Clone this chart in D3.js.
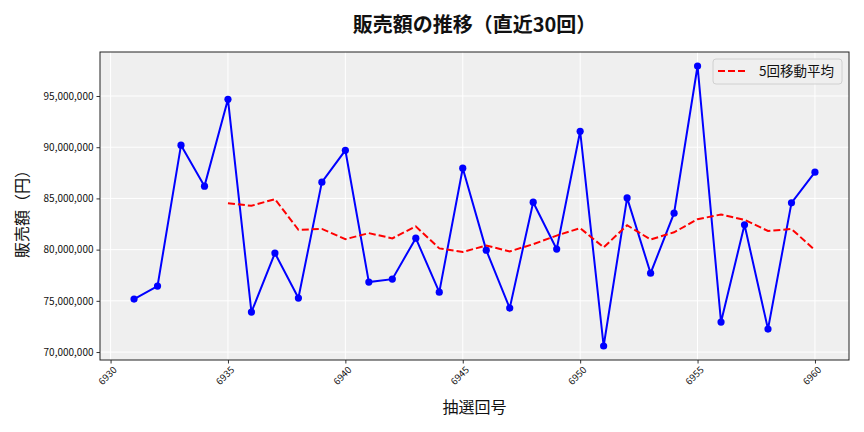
<!DOCTYPE html>
<html>
<head>
<meta charset="utf-8">
<script src="https://cdn.jsdelivr.net/npm/d3@7"></script>
<style>
  body { margin: 0; background: #ffffff; }
  svg { display: block; font-family: "Noto Sans CJK JP", "DejaVu Sans", sans-serif; }
</style>
</head>
<body>
<div id="chart"></div>
<script>
// draw numbers (抽選回号)
const draws = [6931, 6932, 6933, 6934, 6935, 6936, 6937, 6938, 6939, 6940,
               6941, 6942, 6943, 6944, 6945, 6946, 6947, 6948, 6949, 6950,
               6951, 6952, 6953, 6954, 6955, 6956, 6957, 6958, 6959, 6960];

// sales per draw, in yen
const sales = [75170000, 76440000, 90200000, 86200000, 94680000, 73900000, 79660000, 75270000, 86590000, 89700000,
               76830000, 77120000, 81120000, 75850000, 87950000, 79950000, 74290000, 84630000, 80050000, 91560000,
               70590000, 85050000, 77700000, 83560000, 97930000, 72930000, 82420000, 72240000, 84570000, 87560000];

// 5-draw moving average, draws 6935..6960
const maDraws = [6935, 6936, 6937, 6938, 6939, 6940, 6941, 6942, 6943, 6944,
                 6945, 6946, 6947, 6948, 6949, 6950, 6951, 6952, 6953, 6954,
                 6955, 6956, 6957, 6958, 6959, 6960];
const maValues = [84540000, 84280000, 84930000, 81940000, 82020000, 81020000, 81610000, 81100000, 82270000, 80120000,
                  79770000, 80400000, 79830000, 80530000, 81370000, 82100000, 80220000, 82380000, 80990000, 81690000,
                  82970000, 83430000, 82910000, 81820000, 82020000, 79940000];

const xTicks = [6930, 6935, 6940, 6945, 6950, 6955, 6960];
const yTicks = [70000000, 75000000, 80000000, 85000000, 90000000, 95000000];

const titleText = '販売額の推移（直近30回）';
const xLabelText = '抽選回号';
const yLabelText = '販売額（円）';
const legendText = '5回移動平均';

const width = 864, height = 432;
const margin = { top: 52, right: 15, bottom: 72, left: 100 };
const plotW = width - margin.left - margin.right;
const plotH = height - margin.top - margin.bottom;

const svg = d3.select('#chart')
    .append('svg')
    .attr('width', width)
    .attr('height', height);

// matplotlib style 5% padding on both axes
const xPad = (d3.max(draws) - d3.min(draws)) * 0.05;
const yPad = (d3.max(sales) - d3.min(sales)) * 0.05;

const x = d3.scaleLinear()
    .domain([d3.min(draws) - xPad, d3.max(draws) + xPad])
    .range([0, plotW]);

const y = d3.scaleLinear()
    .domain([d3.min(sales) - yPad, d3.max(sales) + yPad])
    .range([plotH, 0]);

const g = svg.append('g')
    .attr('transform', `translate(${margin.left},${margin.top})`);

// plot background
g.append('rect')
    .attr('width', plotW)
    .attr('height', plotH)
    .attr('fill', '#efefef');

// grid
g.append('g')
    .selectAll('line')
    .data(xTicks)
    .enter()
    .append('line')
    .attr('x1', d => x(d)).attr('x2', d => x(d))
    .attr('y1', 0).attr('y2', plotH)
    .attr('stroke', '#ffffff')
    .attr('stroke-width', 1);

g.append('g')
    .selectAll('line')
    .data(yTicks)
    .enter()
    .append('line')
    .attr('x1', 0).attr('x2', plotW)
    .attr('y1', d => y(d)).attr('y2', d => y(d))
    .attr('stroke', '#ffffff')
    .attr('stroke-width', 1);

// axes
const xAxis = g.append('g')
    .attr('transform', `translate(0,${plotH})`)
    .call(d3.axisBottom(x).tickValues(xTicks).tickSize(3.5).tickFormat(d3.format('d')));
xAxis.select('.domain').remove();
xAxis.selectAll('line').attr('stroke', '#333');
xAxis.selectAll('text')
    .attr('font-family', '"Noto Sans CJK JP", sans-serif')
    .attr('font-size', 9.5)
    .attr('fill', '#111')
    .attr('text-anchor', 'middle')
    .attr('dy', null)
    .attr('y', null)
    .attr('transform', 'translate(-1,18) rotate(-45)');

const yAxis = g.append('g')
    .call(d3.axisLeft(y).tickValues(yTicks).tickSize(3.5).tickFormat(d3.format(',')));
yAxis.select('.domain').remove();
yAxis.selectAll('line').attr('stroke', '#333');
yAxis.selectAll('text')
    .attr('font-family', '"Noto Sans CJK JP", sans-serif')
    .attr('font-size', 10)
    .attr('fill', '#111');

// frame
g.append('rect')
    .attr('width', plotW)
    .attr('height', plotH)
    .attr('fill', 'none')
    .attr('stroke', '#222')
    .attr('stroke-width', 1);

// sales line
const line = d3.line()
    .x(d => x(d[0]))
    .y(d => y(d[1]));

const salesData = draws.map((d, i) => [d, sales[i]]);
const maData = maDraws.map((d, i) => [d, maValues[i]]);

g.append('path')
    .datum(salesData)
    .attr('d', line)
    .attr('fill', 'none')
    .attr('stroke', '#0000ff')
    .attr('stroke-width', 2);

g.append('g')
    .selectAll('circle')
    .data(salesData)
    .enter()
    .append('circle')
    .attr('cx', d => x(d[0]))
    .attr('cy', d => y(d[1]))
    .attr('r', 3.6)
    .attr('fill', '#0000ff');

// moving average
g.append('path')
    .datum(maData)
    .attr('d', line)
    .attr('fill', 'none')
    .attr('stroke', '#ff0000')
    .attr('stroke-width', 2)
    .attr('stroke-dasharray', '7,3');

// legend
const legend = g.append('g')
    .attr('transform', `translate(${plotW - 136},7)`);
legend.append('rect')
    .attr('width', 129)
    .attr('height', 25)
    .attr('rx', 3)
    .attr('fill', '#efefef')
    .attr('fill-opacity', 0.8)
    .attr('stroke', '#d0d0d0');
legend.append('line')
    .attr('x1', 5).attr('x2', 34)
    .attr('y1', 12).attr('y2', 12)
    .attr('stroke', '#ff0000')
    .attr('stroke-width', 2)
    .attr('stroke-dasharray', '7,3');
legend.append('text')
    .attr('x', 46)
    .attr('y', 12)
    .attr('dy', '0.35em')
    .attr('font-size', 13.5)
    .attr('fill', '#111')
    .text(legendText);

// titles
svg.append('text')
    .attr('x', margin.left + plotW / 2)
    .attr('y', 25)
    .attr('dy', '0.35em')
    .attr('text-anchor', 'middle')
    .attr('font-size', 20)
    .attr('font-weight', 'bold')
    .attr('fill', '#111')
    .text(titleText);

svg.append('text')
    .attr('x', margin.left + plotW / 2)
    .attr('y', 407)
    .attr('dy', '0.35em')
    .attr('text-anchor', 'middle')
    .attr('font-size', 16)
    .attr('fill', '#111')
    .text(xLabelText);

svg.append('text')
    .attr('transform', `translate(22,${margin.top + plotH / 2 + 4}) rotate(-90)`)
    .attr('dy', '0.35em')
    .attr('text-anchor', 'middle')
    .attr('font-size', 16)
    .attr('fill', '#111')
    .text(yLabelText);
</script>
</body>
</html>
